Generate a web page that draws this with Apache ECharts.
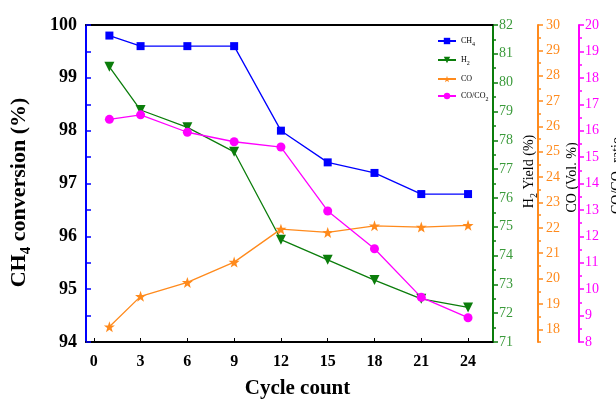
<!DOCTYPE html>
<html>
<head>
<meta charset="utf-8">
<script src="https://cdn.jsdelivr.net/npm/echarts@6/dist/echarts.min.js"></script>
<style>
  html, body { margin: 0; padding: 0; background: #fff; }
  #chart { width: 616px; height: 399px; }
</style>
</head>
<body>
<div id="chart"></div>
<script>
// cycle numbers and measured values
const cycles = [1, 3, 6, 9, 12, 15, 18, 21, 24];
const ch4Conversion = [99.8, 99.6, 99.6, 99.6, 98.0, 97.4, 97.2, 96.8, 96.8];
const h2Yield = [80.55, 79.05, 78.45, 77.6, 74.55, 73.85, 73.15, 72.5, 72.2];
const coVol = [18.1, 19.3, 19.85, 20.65, 21.95, 21.82, 22.08, 22.03, 22.1];
const coRatio = [16.43, 16.6, 15.94, 15.58, 15.38, 12.96, 11.53, 9.69, 8.92];
const xTicks = [0, 3, 6, 9, 12, 15, 18, 21, 24];
const coTicks = [18, 19, 20, 21, 22, 23, 24, 25, 26, 27, 28, 29, 30];
const coMinorTicks = [17.5, 18.5, 19.5, 20.5, 21.5, 22.5, 23.5, 24.5, 25.5, 26.5, 27.5, 28.5, 29.5];

const serif = "Liberation Serif";
const BLUE = "#0000ff", GREEN = "#0b7d0b", GREEN_TXT = "#3a9a3a", ORANGE = "#ff8a1c", MAGENTA = "#ff00ff";

const pairs = (ys) => cycles.map((c, i) => [c, ys[i]]);

const chart = echarts.init(document.getElementById("chart"));

const subRich = (size, weight) => ({
  n: { fontFamily: serif, fontSize: size, fontWeight: weight, color: "#000" },
  s: { fontFamily: serif, fontSize: Math.round(size * 0.7), fontWeight: weight, color: "#000", verticalAlign: "bottom", padding: [0, 0, -Math.round(size * 0.2), 0] }
});

const rightAxis = (min, max, color, txtColor, offset, name, gap, shift) => ({
  type: "value", position: "right", offset: offset, min: min, max: max, interval: 1,
  name: name, nameLocation: "middle", nameRotate: 90, nameGap: gap, nameMoveOverlap: false,
  nameTextStyle: { rich: subRich(14, "normal"), padding: [0, 0, 0, shift] },
  axisLine: { show: true, onZero: false, lineStyle: { color: color, width: 2 } },
  axisTick: { show: true, length: 5, lineStyle: { color: color, width: 1.5 } },
  minorTick: { show: true, splitNumber: 2, length: 3, lineStyle: { color: color, width: 1.5 } },
  axisLabel: { color: txtColor, fontFamily: serif, fontSize: 14, margin: 6 },
  splitLine: { show: false }
});

const coAxis = rightAxis(17.5, 30, ORANGE, ORANGE, 45, "{n|CO (Vol. %)}", 27, 12);
coAxis.interval = undefined;
coAxis.axisLabel.customValues = coTicks;
coAxis.axisLabel.margin = 8;
coAxis.axisTick.customValues = coTicks;
coAxis.minorTick = { show: false };

const coMinor = {
  type: "value", position: "right", offset: 45, min: 17.5, max: 30,
  axisLine: { show: false, onZero: false },
  axisTick: { show: true, length: 3, customValues: coMinorTicks, lineStyle: { color: ORANGE, width: 1.5 } },
  axisLabel: { show: false },
  splitLine: { show: false }
};

const legendNames = { CH4: "{n|CH}{s|4}", H2: "{n|H}{s|2}", CO: "{n|CO}", "CO/CO2": "{n|CO/CO}{s|2}" };

chart.setOption({
  animation: false,
  backgroundColor: "#fff",
  grid: { left: 86, right: 123, top: 25, bottom: 57, outerBoundsMode: "none", containLabel: false },
  legend: {
    orient: "vertical", left: 437, top: 37, padding: 0, itemWidth: 18, itemHeight: 8, itemGap: 9,
    formatter: (n) => legendNames[n],
    textStyle: { rich: subRich(8, "normal") },
    data: ["CH4", "H2", "CO", "CO/CO2"]
  },
  xAxis: [{
    type: "value", min: -0.5, max: 25.6,
    name: "Cycle count", nameLocation: "middle", nameGap: 36,
    nameTextStyle: { fontFamily: serif, fontSize: 21, fontWeight: "bold", color: "#000", padding: [0, 0, 0, 16] },
    axisLine: { onZero: false, lineStyle: { color: "#000", width: 2 } },
    axisTick: { inside: true, length: 4, customValues: xTicks, lineStyle: { color: "#000" } },
    axisLabel: { customValues: xTicks, fontFamily: serif, fontSize: 16, fontWeight: "bold", color: "#000", margin: 12 },
    splitLine: { show: false }
  }, {
    type: "value", position: "top", min: -0.5, max: 25.6,
    axisLine: { show: true, onZero: false, lineStyle: { color: "#000", width: 2 } },
    axisTick: { show: false }, axisLabel: { show: false }, splitLine: { show: false }
  }],
  yAxis: [{
    type: "value", position: "left", min: 94, max: 100, interval: 1,
    name: "{n|CH}{s|4}{n| conversion (%)}", nameLocation: "middle", nameRotate: 90, nameGap: 56,
    nameTextStyle: { rich: subRich(22, "bold"), padding: [0, 18, 0, 0] },
    axisLine: { show: true, onZero: false, lineStyle: { color: BLUE, width: 2 } },
    axisTick: { inside: true, length: 5, lineStyle: { color: BLUE, width: 1.5 } },
    minorTick: { show: true, splitNumber: 2, length: 5, lineStyle: { color: BLUE, width: 1.5 } },
    axisLabel: { fontFamily: serif, fontSize: 18, fontWeight: "bold", color: "#000", margin: 9 },
    splitLine: { show: false }
  },
  rightAxis(71, 82, GREEN, GREEN_TXT, 0, "{n|H}{s|2}{n| Yield (%)}", 29, 24),
  coAxis,
  rightAxis(8, 20, MAGENTA, MAGENTA, 86, "{n|CO/CO}{s|2}{n| ratio}", 31, 16),
  coMinor],
  series: [
    { name: "CH4", type: "line", yAxisIndex: 0, data: pairs(ch4Conversion), symbol: "rect", symbolSize: 8,
      itemStyle: { color: BLUE }, lineStyle: { color: BLUE, width: 1.3 } },
    { name: "H2", type: "line", yAxisIndex: 1, data: pairs(h2Yield), symbol: "triangle", symbolRotate: 180, symbolSize: 10,
      itemStyle: { color: GREEN }, lineStyle: { color: GREEN, width: 1.3 } },
    { name: "CO", type: "line", yAxisIndex: 2, data: pairs(coVol), symbol: "path://M0,-10 L2.35,-3.24 L9.51,-3.09 L3.8,1.24 L5.88,8.09 L0,4 L-5.88,8.09 L-3.8,1.24 L-9.51,-3.09 L-2.35,-3.24 Z", symbolSize: 11,
      itemStyle: { color: ORANGE }, lineStyle: { color: ORANGE, width: 1.3 } },
    { name: "CO/CO2", type: "line", yAxisIndex: 3, data: pairs(coRatio), symbol: "circle", symbolSize: 9,
      itemStyle: { color: MAGENTA }, lineStyle: { color: MAGENTA, width: 1.3 } }
  ]
});
</script>
</body>
</html>
